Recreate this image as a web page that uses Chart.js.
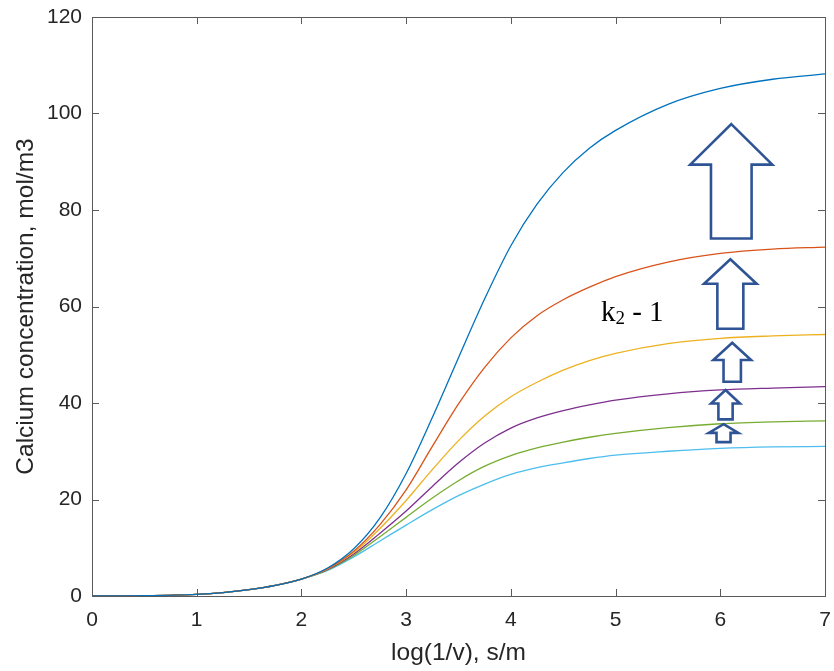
<!DOCTYPE html>
<html>
<head>
<meta charset="utf-8">
<script src="https://cdn.jsdelivr.net/npm/chart.js@4.4.0/dist/chart.umd.min.js"></script>
<style>
  body { margin: 0; background: #fff; }
  #wrap { width: 834px; height: 671px; }
</style>
</head>
<body>
<div id="wrap"><canvas id="calciumChart" width="834" height="671"></canvas></div>
<script>
// log(1/v) sample positions, shared by all curves
const logV = [0, 0.5, 1, 1.25, 1.5, 1.75, 2, 2.25, 2.5, 2.75, 3, 3.25, 3.5, 3.75, 4, 4.25, 4.5, 4.75, 5, 5.5, 6, 6.5, 7];

// calcium concentration (mol/m3) for each k2 case, largest first
const caseA = [0, 0.07, 0.35, 0.7, 1.3, 2.2, 3.5, 5.8, 9.8, 16.2, 25.4, 37.0, 49.4, 61.6, 72.6, 81.2, 87.8, 92.8, 96.5, 101.9, 105.2, 107.1, 108.2];
const caseB = [0, 0.07, 0.35, 0.7, 1.3, 2.2, 3.5, 5.7, 9.3, 14.8, 22.0, 31.0, 39.8, 47.4, 53.5, 58.1, 61.4, 64.0, 66.2, 69.2, 71.0, 71.9, 72.3];
const caseC = [0, 0.07, 0.35, 0.7, 1.3, 2.2, 3.5, 5.6, 9.0, 14.0, 19.8, 26.2, 32.2, 37.3, 41.3, 44.3, 46.8, 48.8, 50.3, 52.3, 53.4, 53.9, 54.2];
const caseD = [0, 0.07, 0.35, 0.7, 1.3, 2.2, 3.5, 5.5, 8.7, 13.0, 17.6, 22.7, 27.6, 31.7, 34.8, 36.9, 38.4, 39.6, 40.6, 41.9, 42.7, 43.1, 43.4];
const caseE = [0, 0.07, 0.35, 0.7, 1.3, 2.2, 3.5, 5.4, 8.4, 12.3, 16.3, 20.3, 23.9, 26.9, 29.1, 30.7, 31.9, 32.9, 33.7, 34.9, 35.7, 36.1, 36.3];
const caseF = [0, 0.07, 0.35, 0.7, 1.3, 2.2, 3.5, 5.3, 8.1, 11.4, 14.7, 17.9, 20.8, 23.2, 25.2, 26.6, 27.6, 28.5, 29.2, 30.0, 30.6, 30.9, 31.0];

const xTicks = [0, 1, 2, 3, 4, 5, 6, 7];
const yTicks = [0, 20, 40, 60, 80, 100, 120];

// MATLAB default line colours
const lineColors = ['#0072BD', '#D95319', '#EDB120', '#7E2F8E', '#77AC30', '#4DBEEE'];

// up arrows between curves: centre x, tip y, head base y, tail y, head half width, shaft half width (data units)
const arrows = [
  [6.105, 97.8, 89.4, 74.1, 0.392, 0.194],
  [6.096, 69.8, 64.7, 55.4, 0.251, 0.124],
  [6.114, 52.5, 48.9, 44.4, 0.180, 0.083],
  [6.050, 42.7, 39.9, 36.6, 0.138, 0.068],
  [6.031, 35.6, 33.8, 31.9, 0.141, 0.067]
];

const series = [caseA, caseB, caseC, caseD, caseE, caseF];
const datasets = series.map((vals, i) => ({
  data: vals.map((v, j) => ({ x: logV[j], y: v })),
  borderColor: lineColors[i],
  borderWidth: 1.3,
  pointRadius: 0,
  fill: false,
  cubicInterpolationMode: 'monotone'
}));

const axisColor = '#262626';

// box around the axes, inward ticks, arrows and the k2 label
const frameAndArrows = {
  id: 'frameAndArrows',
  afterDatasetsDraw(chart) {
    const { ctx, chartArea: a, scales: { x, y } } = chart;
    ctx.save();

    ctx.strokeStyle = '#5a5a5a';
    ctx.lineWidth = 1;
    ctx.strokeRect(Math.round(a.left) + 0.5, Math.round(a.top) + 0.5,
      Math.round(a.right - a.left), Math.round(a.bottom - a.top));

    const tl = 7;
    ctx.beginPath();
    xTicks.forEach(v => {
      const px = Math.round(x.getPixelForValue(v)) + 0.5;
      ctx.moveTo(px, a.bottom); ctx.lineTo(px, a.bottom - tl);
      ctx.moveTo(px, a.top); ctx.lineTo(px, a.top + tl);
    });
    yTicks.forEach(v => {
      const py = Math.round(y.getPixelForValue(v)) + 0.5;
      ctx.moveTo(a.left, py); ctx.lineTo(a.left + tl, py);
      ctx.moveTo(a.right, py); ctx.lineTo(a.right - tl, py);
    });
    ctx.stroke();

    // arrows
    ctx.strokeStyle = '#2f5496';
    ctx.fillStyle = '#ffffff';
    ctx.lineWidth = 2.6;
    ctx.lineJoin = 'miter';
    arrows.forEach(([cx, tip, head, tail, hw, sw]) => {
      const X = v => x.getPixelForValue(v);
      const Y = v => y.getPixelForValue(v);
      ctx.beginPath();
      ctx.moveTo(X(cx), Y(tip));
      ctx.lineTo(X(cx + hw), Y(head));
      ctx.lineTo(X(cx + sw), Y(head));
      ctx.lineTo(X(cx + sw), Y(tail));
      ctx.lineTo(X(cx - sw), Y(tail));
      ctx.lineTo(X(cx - sw), Y(head));
      ctx.lineTo(X(cx - hw), Y(head));
      ctx.closePath();
      ctx.fill();
      ctx.stroke();
    });

    // k2 - 1 label
    let tx = x.getPixelForValue(4.86);
    const ty = y.getPixelForValue(57.0);
    ctx.fillStyle = '#000000';
    ctx.textBaseline = 'alphabetic';
    ctx.textAlign = 'left';
    ctx.font = '29px "Liberation Serif", "Times New Roman", serif';
    ctx.fillText('k', tx, ty);
    tx += ctx.measureText('k').width;
    ctx.font = '19px "Liberation Serif", "Times New Roman", serif';
    ctx.fillText('2', tx, ty + 3);
    tx += ctx.measureText('2').width;
    ctx.font = '29px "Liberation Serif", "Times New Roman", serif';
    ctx.fillText(' - 1', tx, ty);

    ctx.restore();
  }
};

const tickFont = { family: '"Liberation Sans", Arial, sans-serif', size: 21 };
const titleFont = { family: '"Liberation Sans", Arial, sans-serif', size: 24.5 };

new Chart(document.getElementById('calciumChart').getContext('2d'), {
  type: 'line',
  data: { datasets: datasets },
  options: {
    responsive: false,
    animation: false,
    layout: { padding: { top: 17, right: 9, left: 0, bottom: 0 } },
    plugins: {
      legend: { display: false },
      tooltip: { enabled: false }
    },
    scales: {
      x: {
        type: 'linear',
        min: 0,
        max: 7,
        grid: { display: false, drawTicks: false },
        border: { display: false },
        ticks: { stepSize: 1, color: axisColor, font: tickFont, padding: 12 },
        title: { display: true, text: 'log(1/v), s/m', color: axisColor, font: titleFont, padding: { top: 0, bottom: 3 } },
        afterFit: scale => {
          scale.height = 75;
          scale.paddingLeft = 0;
          scale.paddingRight = 0;
        }
      },
      y: {
        min: 0,
        max: 120,
        grid: { display: false, drawTicks: false },
        border: { display: false },
        ticks: { stepSize: 20, color: axisColor, font: tickFont, padding: 10 },
        title: { display: true, text: 'Calcium concentration, mol/m3', color: axisColor, font: titleFont, padding: { top: 12, bottom: 0 } },
        afterFit: scale => {
          scale.width = 92;
          scale.paddingTop = 0;
          scale.paddingBottom = 0;
        }
      }
    }
  },
  plugins: [frameAndArrows]
});
</script>
</body>
</html>
